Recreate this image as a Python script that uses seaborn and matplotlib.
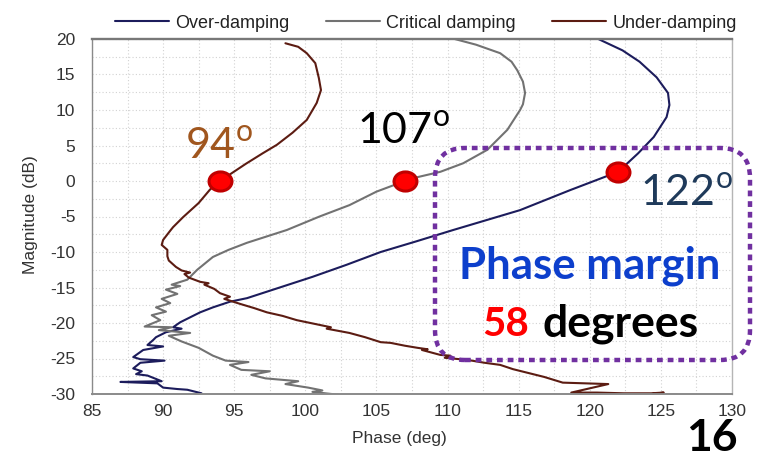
import matplotlib
matplotlib.use("Agg")
import matplotlib.pyplot as plt
import numpy as np
import pandas as pd
import seaborn as sns
from matplotlib.patches import FancyBboxPatch
from matplotlib.path import Path
from matplotlib.transforms import Affine2D, IdentityTransform
from matplotlib.ticker import MultipleLocator

# ---- measured loop responses: phase (deg) vs magnitude (dB) ----
over_phase = [120.6, 122.3, 123.5, 124.7, 125.5, 125.6, 125.4, 124.5, 123.4, 122.0,
              120.3, 118.6, 115.1, 110.4, 107.8, 105.3, 102.9, 100.5, 98.2, 95.9,
              94.7, 93.5, 92.6, 91.9, 91.2, 90.7, 91.3, 90.2, 89.5, 89.3,
              88.9, 90.0, 88.6, 87.9, 88.4, 90.1, 88.4, 87.9, 88.5, 88.1,
              88.9, 89.9, 87.0, 89.6, 90.0, 91.0, 91.7, 92.7]
over_mag = [20.0, 18.4, 16.8, 14.6, 12.4, 10.7, 9.0, 6.2, 3.9, 1.3,
            0.0, -1.3, -4.1, -6.9, -8.5, -10.0, -11.8, -13.5, -15.0, -16.5,
            -17.0, -17.8, -18.5, -19.2, -19.9, -20.6, -20.8, -21.3, -22.0, -22.4,
            -23.1, -23.3, -23.8, -24.8, -25.1, -25.3, -25.6, -26.4, -26.8, -27.2,
            -27.4, -28.2, -28.3, -28.5, -29.1, -29.3, -29.4, -29.9]

crit_phase = [110.5, 112.0, 113.7, 114.5, 114.9, 115.3, 115.45, 115.3, 115.1, 114.2,
              112.8, 111.1, 109.5, 107.9, 107.0, 105.0, 103.1, 101.0, 98.7, 97.3,
              95.9, 94.6, 93.5, 92.4, 91.7, 90.6, 91.2, 90.2, 91.0, 89.9,
              90.5, 89.5, 90.2, 89.2, 89.8, 88.7, 90.6, 89.7, 91.9, 90.4,
              91.3, 92.5, 93.5, 94.4, 96.0, 94.7, 95.5, 97.5, 96.2, 97.2,
              99.5, 98.6, 100.2, 101.2, 100.5, 102.3]
crit_mag = [20.0, 19.2, 18.0, 16.8, 15.6, 14.0, 12.4, 10.8, 10.0, 7.2,
            4.4, 2.5, 1.3, 0.55, 0.0, -1.5, -3.4, -5.0, -6.9, -7.8,
            -8.7, -9.7, -10.7, -12.5, -13.9, -14.6, -14.8, -15.3, -15.9, -16.6,
            -17.2, -17.8, -18.4, -18.9, -19.6, -20.5, -20.6, -21.0, -21.4, -21.8,
            -22.6, -23.5, -24.6, -25.3, -25.5, -25.9, -26.6, -26.8, -27.3, -27.8,
            -28.2, -28.6, -29.1, -29.5, -29.7, -30.1]

under_phase = [98.6, 99.5, 100.1, 100.7, 100.95, 101.1, 100.8, 100.1, 99.1, 98.0,
               97.0, 95.8, 94.0, 93.3, 92.5, 91.4, 90.7, 90.5, 90.0, 89.9,
               90.3, 90.3, 90.4, 90.9, 91.3, 91.9, 91.5, 91.8, 92.6, 93.2,
               92.9, 93.6, 94.0, 94.7, 94.3, 95.4, 96.4, 97.3, 98.4, 99.4,
               100.6, 101.8, 101.5, 103.1, 104.2, 105.3, 106.0, 107.0, 107.9, 108.6,
               108.2, 109.5, 110.2, 109.8, 111.4, 112.6, 113.7, 114.6, 115.6, 116.8,
               118.1, 121.3, 118.7, 120.5, 122.4, 124.3, 125.2, 123.6, 125.0, 126.1]
under_mag = [19.4, 18.9, 18.0, 16.6, 14.5, 12.8, 11.0, 8.6, 6.8, 5.1,
             3.9, 2.4, 0.0, -1.2, -3.1, -5.1, -6.5, -7.0, -8.3, -9.0,
             -9.7, -10.6, -11.2, -12.1, -12.6, -12.9, -13.1, -13.6, -14.2, -14.4,
             -14.6, -15.2, -15.8, -16.3, -16.6, -17.3, -17.9, -18.5, -19.0, -19.6,
             -20.1, -20.6, -20.8, -21.4, -22.0, -22.7, -22.8, -23.2, -23.5, -23.7,
             -23.8, -24.5, -24.6, -24.9, -25.2, -25.6, -25.9, -26.5, -27.0, -27.6,
             -28.4, -28.6, -29.8, -29.8, -29.9, -29.9, -29.8, -30.2, -30.15, -30.1]

series_names = ["Over-damping", "Critical damping", "Under-damping"]
series_colors = ["#1c1c5c", "#727272", "#5c1c12"]

# 0 dB crossover points and their phase labels
crossing_phase = [94, 107, 122]
crossing_mag = [0.0, 0.0, 1.3]
crossing_colors = ["#a0561e", "#000000", "#1f3a5a"]

phase_margin = 58
slide_number = "16"

x_ticks = list(range(85, 131, 5))
y_ticks = list(range(-30, 21, 5))

# ---- styling ----
sns.set_style("white")
plt.rcParams["font.family"] = ["Liberation Sans", "DejaVu Sans"]
plt.rcParams["axes.unicode_minus"] = False
plt.rcParams["mathtext.fontset"] = "custom"
plt.rcParams["mathtext.rm"] = "Lato"

W, H = 758, 458
fig = plt.figure(figsize=(W / 100, H / 100), dpi=100)
ax = fig.add_axes([92 / W, 1 - 394 / H, (732 - 92) / W, (394 - 39) / H])

frames = []
for name, ph, mg in zip(series_names,
                        [over_phase, crit_phase, under_phase],
                        [over_mag, crit_mag, under_mag]):
    frames.append(pd.DataFrame({"Phase": ph, "Magnitude": mg, "Response": name}))
df = pd.concat(frames, ignore_index=True)

sns.lineplot(data=df, x="Phase", y="Magnitude", hue="Response",
             hue_order=series_names, palette=dict(zip(series_names, series_colors)),
             sort=False, estimator=None, linewidth=1.5, ax=ax, legend=False)

ax.set_xlim(x_ticks[0], x_ticks[-1])
ax.set_ylim(y_ticks[0], y_ticks[-1])
ax.set_xticks(x_ticks)
ax.set_yticks(y_ticks)
ax.xaxis.set_minor_locator(MultipleLocator(2.5))
ax.yaxis.set_minor_locator(MultipleLocator(2.5))
ax.grid(which="both", linestyle=(0, (1, 2)), color="#d2d2d2", linewidth=0.8)
ax.set_axisbelow(True)

ax.tick_params(axis="x", which="major", direction="out", length=4, width=0.8,
               color="#8a8a8a", labelsize=12.5, labelcolor="#333333", pad=3)
ax.tick_params(axis="x", which="minor", direction="out", length=3, width=0.8, color="#8a8a8a")
ax.tick_params(axis="y", which="major", direction="out", length=8, width=0.8,
               color="#8a8a8a", labelsize=12.5, labelcolor="#333333", pad=4)
ax.tick_params(axis="y", which="minor", direction="out", length=4, width=0.8, color="#8a8a8a")

for side, col, lw in [("top", "#787878", 1.7), ("bottom", "#8a8a8a", 1.4),
                      ("left", "#8a8a8a", 1.0), ("right", "#b5b5b5", 1.0)]:
    ax.spines[side].set_visible(True)
    ax.spines[side].set_color(col)
    ax.spines[side].set_linewidth(lw)

ax.set_xlabel("Phase (deg)", fontsize=12.5, color="#333333")
ax.set_ylabel("Magnitude (dB)", fontsize=12.5, color="#333333")
ax.xaxis.set_label_coords((399 - 92) / 640, -(431 - 394) / 355)
ax.yaxis.set_label_coords(-(92 - 38) / 640, (394 - 215) / 355)

# crossover markers (slightly wide ellipses)
circle = Path.unit_circle()
ellipse = Path(Affine2D().scale(1.2, 1.0).transform(circle.vertices), circle.codes)
ax.plot(crossing_phase, crossing_mag, linestyle="none", marker=ellipse, markersize=16.5,
        markerfacecolor="#ff0000", markeredgecolor="#c00000", markeredgewidth=2.2,
        zorder=6, clip_on=False)

# phase labels near each crossover
label_pos = [(91.55, 3.25), (103.6, 5.35), (123.5, -3.4)]
for ph, (lx, ly), col in zip(crossing_phase, label_pos, crossing_colors):
    ax.text(lx, ly, f"{ph}" + r"$^{\mathregular{o}}$", fontsize=31, family="Lato",
            color=col, ha="left", va="baseline", zorder=7)

# legend across the top
handles = [plt.Line2D([], [], color=c, lw=1.5) for c in series_colors]
fig.legend(handles, series_names, loc="center", bbox_to_anchor=(426 / W, 1 - 23 / H),
           ncol=3, frameon=False, fontsize=13, handlelength=3.0, handletextpad=0.35,
           columnspacing=2.0, labelcolor="#222222")

# dotted rounded frame around the phase margin note (pixel units)
box = FancyBboxPatch((435, H - 360), 315, 212,
                     boxstyle="round,pad=0,rounding_size=30",
                     transform=IdentityTransform(), fill=False,
                     edgecolor="#7030a0", linewidth=3.2,
                     linestyle=(0, (1.3, 1.1)), zorder=8)
fig.patches.append(box)

def px(x, y):
    return x / W, 1 - y / H

fig.text(*px(590, 278), "Phase margin", fontsize=31.5, family="Lato", weight="bold",
         color="#0d3fcc", ha="center", va="baseline")
fig.text(*px(529, 336), f"{phase_margin}", fontsize=29, family="Lato", weight="bold",
         color="#ff0000", ha="right", va="baseline")
fig.text(*px(542, 336), "degrees", fontsize=32, family="Lato", weight="bold",
         color="#000000", ha="left", va="baseline")
fig.text(*px(738, 451), slide_number, fontsize=32, family="Lato", weight="bold",
         color="#000000", ha="right", va="baseline")

fig.savefig("out.png", dpi=100)
